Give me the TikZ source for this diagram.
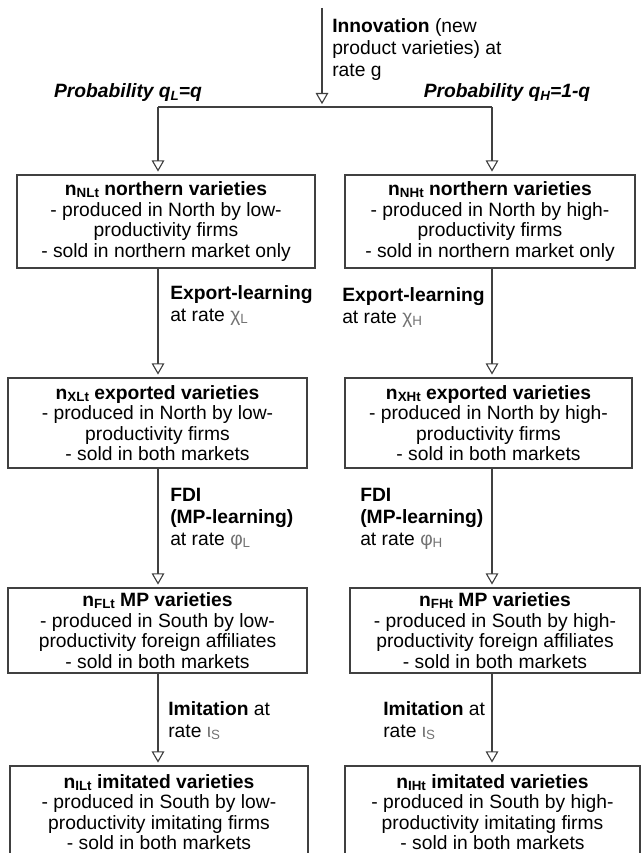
\documentclass[tikz,border=0pt]{standalone}
\usepackage{fontspec}
\setmainfont{Liberation Sans}
\usetikzlibrary{arrows.meta}
\newcommand\lo[1]{\raisebox{-0.2ex}{\fontsize{9.5}{10}\selectfont #1}}
\newcommand\gk[1]{\textcolor{black!55}{#1}}
\begin{document}
\begin{tikzpicture}[
    x=0.025cm,
    y=-0.025cm,
    font=\fontsize{13.7}{14.6}\selectfont,
    varbox/.style={draw=black!75,line width=0.8pt,align=center,inner sep=0pt},
    link/.style={draw=black!75,line width=0.8pt},
    flow/.style={link,-{Triangle[open,width=9pt,length=8pt]},shorten >=2pt},
    rate/.style={anchor=north west,align=left,inner sep=0pt,
        font=\fontsize{13.7}{15.6}\selectfont}
]
    \useasboundingbox (0,0) rectangle (640,853);

    % Innovation and branching
    \coordinate (src) at (322,8);
    \coordinate (split) at (322,107);
    \coordinate (xl) at (158,107);
    \coordinate (xr) at (492,107);
    \node[rate] (innov) at (332,18)
        {\textbf{Innovation} (new\\product varieties) at\\rate g};
    \node[font=\fontsize{13.7}{14.6}\selectfont\bfseries\itshape] (probL) at (128,93)
        {Probability q\lo{L}=q};
    \node[font=\fontsize{13.7}{14.6}\selectfont\bfseries\itshape] (probH) at (507,93)
        {Probability q\lo{H}=1-q};

    % Northern varieties
    \node[varbox,minimum width=7.45cm,minimum height=2.325cm] (nNL) at (166,221.5)
        {\textbf{n\lo{NLt} northern varieties}\\- produced in North by low-\\productivity firms\\- sold in northern market only};
    \node[varbox,minimum width=7.25cm,minimum height=2.325cm] (nNH) at (490,221.5)
        {\textbf{n\lo{NHt} northern varieties}\\- produced in North by high-\\productivity firms\\- sold in northern market only};

    % Exported varieties
    \node[varbox,minimum width=7.475cm,minimum height=2.25cm] (nXL) at (157.5,423)
        {\textbf{n\lo{XLt} exported varieties}\\- produced in North by low-\\productivity firms\\- sold in both markets};
    \node[varbox,minimum width=7.175cm,minimum height=2.25cm] (nXH) at (488.5,423)
        {\textbf{n\lo{XHt} exported varieties}\\- produced in North by high-\\productivity firms\\- sold in both markets};

    % MP varieties
    \node[varbox,minimum width=7.475cm,minimum height=2.125cm] (nFL) at (157.5,630.5)
        {\textbf{n\lo{FLt} MP varieties}\\- produced in South by low-\\productivity foreign affiliates\\- sold in both markets};
    \node[varbox,minimum width=7.25cm,minimum height=2.125cm] (nFH) at (495,630.5)
        {\textbf{n\lo{FHt} MP varieties}\\- produced in South by high-\\productivity foreign affiliates\\- sold in both markets};

    % Imitated varieties
    \node[varbox,minimum width=7.45cm,minimum height=2.3cm] (nIL) at (159,812)
        {\textbf{n\lo{ILt} imitated varieties}\\- produced in South by low-\\productivity imitating firms\\- sold in both markets};
    \node[varbox,minimum width=7.375cm,minimum height=2.3cm] (nIH) at (492.5,812)
        {\textbf{n\lo{IHt} imitated varieties}\\- produced in South by high-\\productivity imitating firms\\- sold in both markets};

    % Rate labels
    \node[rate] (expL) at (170,285) {\textbf{Export-learning}\\at rate \gk{χ\lo{L}}};
    \node[rate] (expH) at (342,287) {\textbf{Export-learning}\\at rate \gk{χ\lo{H}}};
    \node[rate] (fdiL) at (170,488) {\textbf{FDI}\\\textbf{(MP-learning)}\\at rate \gk{φ\lo{L}}};
    \node[rate] (fdiH) at (360,488) {\textbf{FDI}\\\textbf{(MP-learning)}\\at rate \gk{φ\lo{H}}};
    \node[rate] (imiL) at (168,701) {\textbf{Imitation} at\\rate \gk{ι\lo{S}}};
    \node[rate] (imiH) at (383,701) {\textbf{Imitation} at\\rate \gk{ι\lo{S}}};

    % Connectors
    \draw[flow] (src) -- (split);
    \draw[link] (xl) -- (xr);
    \draw[flow] (xl) -- (nNL.north -| xl);
    \draw[flow] (xr) -- (nNH.north -| xr);
    \draw[flow] (nNL.south -| xl) -- (nXL.north -| xl);
    \draw[flow] (nNH.south -| xr) -- (nXH.north -| xr);
    \draw[flow] (nXL.south -| xl) -- (nFL.north -| xl);
    \draw[flow] (nXH.south -| xr) -- (nFH.north -| xr);
    \draw[flow] (nFL.south -| xl) -- (nIL.north -| xl);
    \draw[flow] (nFH.south -| xr) -- (nIH.north -| xr);
\end{tikzpicture}
\end{document}
